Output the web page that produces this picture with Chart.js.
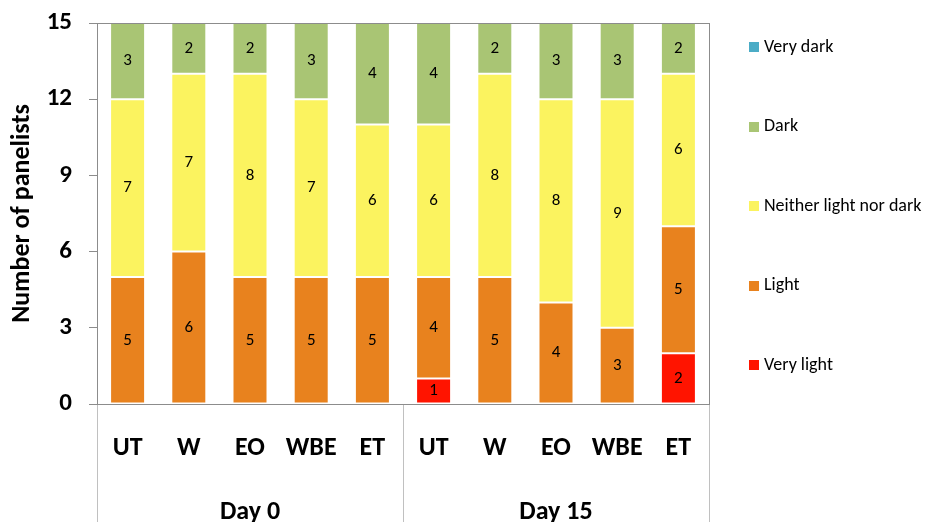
<!DOCTYPE html>
<html>
<head>
<meta charset="utf-8">
<title>Panelist colour ratings</title>
<script src="https://cdn.jsdelivr.net/npm/chart.js@4.4.1/dist/chart.umd.min.js"></script>
<style>
  html, body { margin: 0; padding: 0; background: #ffffff; }
  #wrap { width: 926px; height: 522px; position: relative; }
</style>
</head>
<body>
<div id="wrap"><canvas id="chart" width="926" height="522"></canvas></div>
<script>
// Treatments rated on each day
const categories = ['UT', 'W', 'EO', 'WBE', 'ET', 'UT', 'W', 'EO', 'WBE', 'ET'];
const groups = ['Day 0', 'Day 15'];
const groupSize = 5;

// Number of panelists choosing each colour rating
const veryLight = [0, 0, 0, 0, 0, 1, 0, 0, 0, 2];
const light     = [5, 6, 5, 5, 5, 4, 5, 4, 3, 5];
const neither   = [7, 7, 8, 7, 6, 6, 8, 8, 9, 6];
const dark      = [3, 2, 2, 3, 4, 4, 2, 3, 3, 2];
const veryDark  = [0, 0, 0, 0, 0, 0, 0, 0, 0, 0];

const yTicks = [0, 3, 6, 9, 12, 15];

const FONT = 'Carlito, Lato, "Open Sans", sans-serif';

const series = [
  { label: 'Very light', data: veryLight, color: '#ff1400' },
  { label: 'Light', data: light, color: '#e8821e' },
  { label: 'Neither light nor dark', data: neither, color: '#fbf35f' },
  { label: 'Dark', data: dark, color: '#a9c574' },
  { label: 'Very dark', data: veryDark, color: '#4bacc6' }
];

// Value written in the middle of each non-empty segment
const segmentLabels = {
  id: 'segmentLabels',
  afterDatasetsDraw(chart) {
    const ctx = chart.ctx;
    ctx.save();
    ctx.font = '17px ' + FONT;
    ctx.fillStyle = '#000000';
    ctx.textAlign = 'center';
    ctx.textBaseline = 'middle';
    chart.data.datasets.forEach((ds, i) => {
      const meta = chart.getDatasetMeta(i);
      meta.data.forEach((bar, j) => {
        const v = ds.data[j];
        if (!v) return;
        ctx.fillText(String(v), bar.x, (bar.y + bar.base) / 2);
      });
    });
    ctx.restore();
  }
};

// Plot frame, day group separators and group captions
const frameAndGroups = {
  id: 'frameAndGroups',
  afterDraw(chart) {
    const ctx = chart.ctx;
    const a = chart.chartArea;
    const x = chart.scales.x;
    ctx.save();
    ctx.strokeStyle = '#8c8c8c';
    ctx.lineWidth = 1;
    ctx.strokeRect(Math.round(a.left) + 0.5, Math.round(a.top) + 0.5,
                   Math.round(a.right - a.left), Math.round(a.bottom - a.top));

    const pitch = (a.right - a.left) / categories.length;
    ctx.strokeStyle = '#c0c0c0';
    for (let g = 0; g <= groups.length; g++) {
      const px = Math.round(a.left + g * groupSize * pitch) + 0.5;
      ctx.beginPath();
      ctx.moveTo(px, a.bottom + 1);
      ctx.lineTo(px, chart.height);
      ctx.stroke();
    }
    ctx.font = 'bold 26px ' + FONT;
    ctx.fillStyle = '#000000';
    ctx.textAlign = 'center';
    ctx.textBaseline = 'alphabetic';
    groups.forEach((name, g) => {
      const first = x.getPixelForValue(g * groupSize);
      const last = x.getPixelForValue(g * groupSize + groupSize - 1);
      ctx.fillText(name, (first + last) / 2, 519);
    });
    ctx.restore();
  }
};

// Legend listed top to bottom from darkest to lightest
const sideLegend = {
  id: 'sideLegend',
  afterDraw(chart) {
    const ctx = chart.ctx;
    const items = chart.data.datasets.slice().reverse();
    const top = 47, step = 79.5;
    ctx.save();
    ctx.font = '18px ' + FONT;
    ctx.textAlign = 'left';
    ctx.textBaseline = 'middle';
    items.forEach((ds, i) => {
      const cy = top + i * step;
      ctx.fillStyle = ds.backgroundColor;
      ctx.fillRect(749, Math.round(cy - 5), 10, 10);
      ctx.fillStyle = '#000000';
      ctx.fillText(ds.label, 764, cy);
    });
    ctx.restore();
  }
};

new Chart(document.getElementById('chart'), {
  type: 'bar',
  data: {
    labels: categories,
    datasets: series.map(s => ({
      label: s.label,
      data: s.data,
      backgroundColor: s.color,
      borderColor: 'rgba(255,255,255,0.3)',
      borderWidth: 1,
      borderSkipped: false,
      categoryPercentage: 1,
      barPercentage: 0.572
    }))
  },
  options: {
    responsive: false,
    animation: false,
    devicePixelRatio: 1,
    layout: { padding: { top: 23, right: 217, left: 0, bottom: 0 } },
    plugins: {
      legend: { display: false },
      tooltip: { enabled: false }
    },
    scales: {
      x: {
        stacked: true,
        grid: { display: false, drawTicks: false },
        border: { display: true, color: '#8c8c8c' },
        ticks: {
          color: '#000000',
          font: { family: FONT, size: 26, weight: 'bold' },
          padding: 29,
          maxRotation: 0,
          autoSkip: false
        },
        afterFit(scale) {
          scale.height = 118;
          scale.paddingLeft = 0;
          scale.paddingRight = 0;
        }
      },
      y: {
        stacked: true,
        min: 0,
        max: 15,
        afterBuildTicks(scale) { scale.ticks = yTicks.map(v => ({ value: v })); },
        grid: { drawOnChartArea: false, drawTicks: true, tickLength: 8, color: '#8c8c8c' },
        border: { display: true, color: '#8c8c8c' },
        ticks: {
          color: '#000000',
          font: { family: FONT, size: 25, weight: 'bold' },
          padding: 17
        },
        title: {
          display: true,
          text: 'Number of panelists',
          color: '#000000',
          font: { family: FONT, size: 26, weight: 'bold' },
          padding: { top: 7, bottom: 0 }
        },
        afterFit(scale) {
          scale.width = 97;
          scale.paddingTop = 0;
          scale.paddingBottom = 0;
        }
      }
    }
  },
  plugins: [segmentLabels, frameAndGroups, sideLegend]
});
</script>
</body>
</html>
